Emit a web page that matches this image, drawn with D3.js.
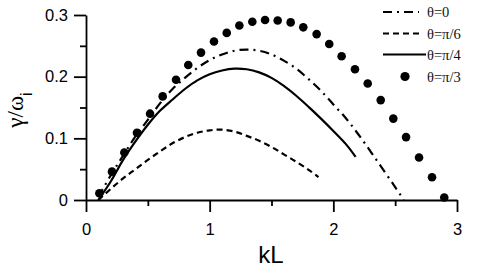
<!DOCTYPE html>
<html>
<head>
<meta charset="utf-8">
<script src="https://cdn.jsdelivr.net/npm/d3@7"></script>
<style>
  body { margin: 0; background: #fff; }
  svg { display: block; }
</style>
</head>
<body>
<div id="chart_root"></div>
<script>
// theta = 0 (dash-dot)
const kl0 = [0.1, 0.2, 0.3, 0.4, 0.5, 0.6, 0.7, 0.8, 0.9, 1.0, 1.1, 1.2, 1.3, 1.4, 1.5, 1.6, 1.7, 1.8, 1.9, 2.0, 2.1, 2.2, 2.3, 2.4, 2.5, 2.57];
const g0 = [0.005, 0.04, 0.072, 0.103, 0.13, 0.157, 0.18, 0.198, 0.214, 0.227, 0.236, 0.242, 0.244, 0.242, 0.236, 0.226, 0.213, 0.196, 0.177, 0.155, 0.133, 0.107, 0.079, 0.05, 0.021, 0.0];

// theta = pi/6 (dashed)
const kl6 = [0.1, 0.2, 0.3, 0.4, 0.5, 0.6, 0.7, 0.8, 0.9, 1.0, 1.1, 1.2, 1.3, 1.4, 1.5, 1.6, 1.7, 1.8, 1.88];
const g6 = [0.0, 0.018, 0.035, 0.05, 0.065, 0.079, 0.092, 0.102, 0.109, 0.113, 0.114, 0.111, 0.104, 0.096, 0.086, 0.074, 0.062, 0.049, 0.037];

// theta = pi/4 (solid)
const kl4 = [0.1, 0.2, 0.3, 0.4, 0.5, 0.6, 0.7, 0.8, 0.9, 1.0, 1.1, 1.2, 1.3, 1.4, 1.5, 1.6, 1.7, 1.8, 1.9, 2.0, 2.1, 2.18];
const g4 = [0.0, 0.03, 0.065, 0.095, 0.122, 0.145, 0.163, 0.18, 0.194, 0.204, 0.21, 0.213, 0.212, 0.207, 0.198, 0.185, 0.169, 0.151, 0.132, 0.112, 0.091, 0.07];

// theta = pi/3 (dots)
const kl3 = [0.108, 0.21, 0.31, 0.412, 0.518, 0.62, 0.728, 0.827, 0.93, 1.035, 1.138, 1.24, 1.345, 1.448,
    1.55, 1.655, 1.757, 1.865, 1.967, 2.067, 2.175, 2.278, 2.383, 2.485, 2.588, 2.693, 2.798, 2.897];
const g3 = [0.011, 0.046, 0.077, 0.109, 0.14, 0.168, 0.195, 0.219, 0.239, 0.257, 0.271, 0.283, 0.289, 0.292,
    0.291, 0.288, 0.28, 0.269, 0.253, 0.233, 0.212, 0.189, 0.162, 0.132, 0.102, 0.069, 0.037, 0.004];

const xMajor = [0, 1, 2, 3];
const xMinor = [0.5, 1.5, 2.5];
const yMajor = [0, 0.1, 0.2, 0.3];
const yMinor = [0.05, 0.15, 0.25];
const legendLabels = ["θ=0", "θ=π/6", "θ=π/4", "θ=π/3"];

const W = 477, H = 270;
const svg = d3.select("#chart_root")
    .append("svg")
    .attr("width", W)
    .attr("height", H)
    .style("background", "#fff");

const x = d3.scaleLinear().domain([0, 3]).range([86, 457]);
const y = d3.scaleLinear().domain([0, 0.3]).range([200, 15]);

const axisFont = "'Liberation Sans', Arial, sans-serif";

// x axis
svg.append("g").attr("transform", "translate(0," + y(0) + ")")
    .call(d3.axisBottom(x).tickValues(xMajor).tickFormat(d3.format("d"))
        .tickSize(12).tickSizeOuter(0).tickPadding(11));
svg.append("g").attr("transform", "translate(0," + y(0) + ")")
    .call(d3.axisBottom(x).tickValues(xMinor).tickFormat("").tickSize(6).tickSizeOuter(0))
    .select(".domain").remove();

// y axis
svg.append("g").attr("transform", "translate(" + x(0) + ",0)")
    .call(d3.axisLeft(y).tickValues(yMajor).tickFormat(d => d === 0 ? "0" : d3.format(".1f")(d))
        .tickSize(12).tickSizeOuter(0).tickPadding(6));
svg.append("g").attr("transform", "translate(" + x(0) + ",0)")
    .call(d3.axisLeft(y).tickValues(yMinor).tickFormat("").tickSize(6).tickSizeOuter(0))
    .select(".domain").remove();

svg.selectAll(".domain, .tick line")
    .attr("stroke", "#000")
    .attr("stroke-width", 1.8);
svg.selectAll(".tick text")
    .attr("fill", "#000")
    .style("font-family", axisFont)
    .style("font-size", "16.5px");

// axis titles
svg.append("text")
    .attr("x", 271)
    .attr("y", 263)
    .attr("text-anchor", "middle")
    .style("font-family", axisFont)
    .style("font-size", "24px")
    .text("kL");

const yl = svg.append("text")
    .attr("transform", "translate(23,110) rotate(-90)")
    .attr("text-anchor", "middle")
    .style("font-family", "'Liberation Serif', 'Times New Roman', serif")
    .style("font-size", "23px");
yl.append("tspan").text("γ/ω");
yl.append("tspan").attr("dy", 9).style("font-family", axisFont).style("font-size", "16px").text("i");

// curves
const line = d3.line()
    .x(d => x(d[0]))
    .y(d => y(d[1]))
    .curve(d3.curveCatmullRom);

const series = [
    { kl: kl0, g: g0, dash: "9,5,2,5" },
    { kl: kl6, g: g6, dash: "6,4" },
    { kl: kl4, g: g4, dash: null }
];

series.forEach(s => {
    svg.append("path")
        .datum(d3.zip(s.kl, s.g))
        .attr("d", line)
        .attr("fill", "none")
        .attr("stroke", "#000")
        .attr("stroke-width", 2.2)
        .attr("stroke-dasharray", s.dash);
});

svg.append("g")
    .selectAll("circle")
    .data(d3.zip(kl3, g3))
    .enter()
    .append("circle")
    .attr("cx", d => x(d[0]))
    .attr("cy", d => y(d[1]))
    .attr("r", 4.3)
    .attr("fill", "#000");

// legend
const legend = svg.append("g");
const rowY = [12, 33.5, 54.5, 76.5];
legendLabels.forEach((lab, i) => {
    if (i < 3) {
        legend.append("line")
            .attr("x1", 383).attr("x2", i === 2 ? 426 : 419)
            .attr("y1", rowY[i]).attr("y2", rowY[i])
            .attr("stroke", "#000")
            .attr("stroke-width", 2.2)
            .attr("stroke-dasharray", series[i].dash);
    } else {
        legend.append("circle")
            .attr("cx", 405).attr("cy", rowY[i])
            .attr("r", 4.6)
            .attr("fill", "#000");
    }
    legend.append("text")
        .attr("x", 427)
        .attr("y", rowY[i] + 5)
        .style("font-family", "'Liberation Serif', 'Times New Roman', serif")
        .style("font-size", "14.5px")
        .attr("fill", "#111")
        .text(lab);
});
</script>
</body>
</html>
